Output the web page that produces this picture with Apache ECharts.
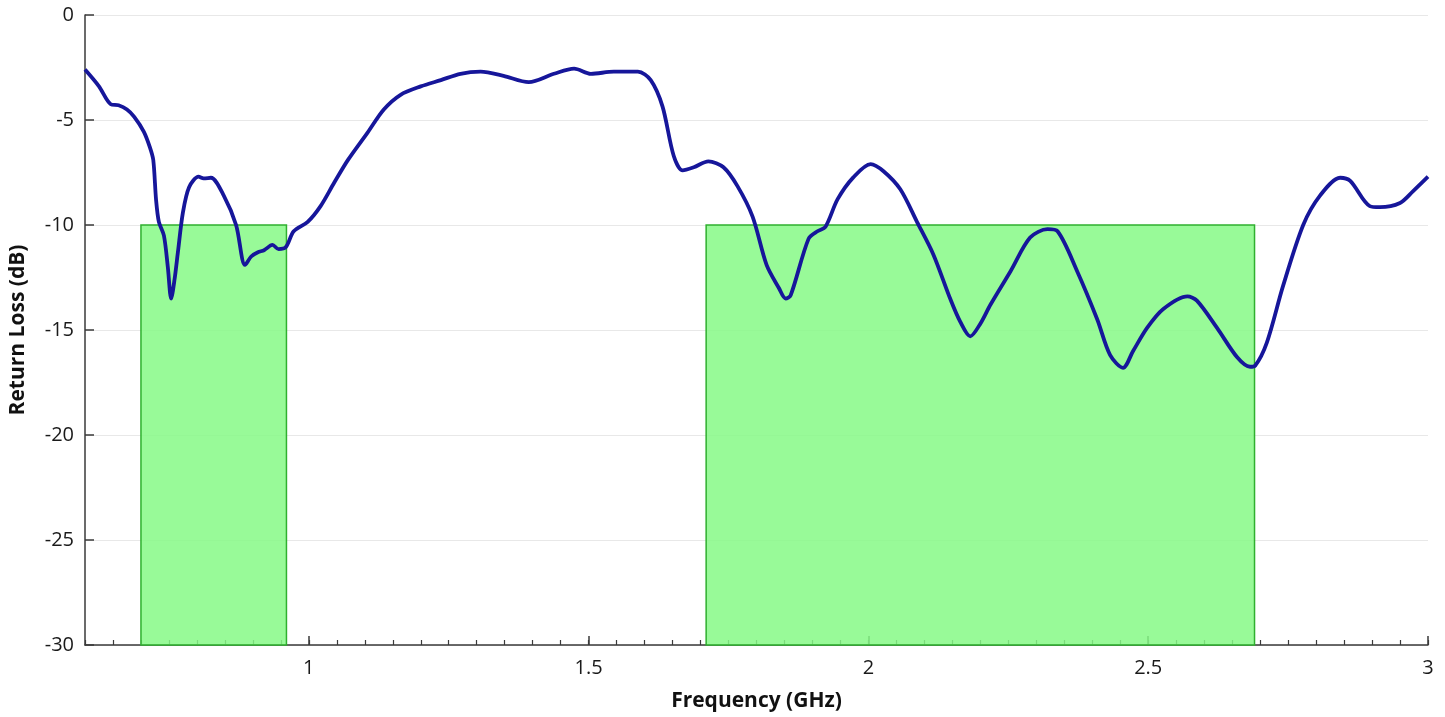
<!DOCTYPE html>
<html>
<head>
<meta charset="utf-8">
<script src="https://cdn.jsdelivr.net/npm/echarts@6/dist/echarts.min.js"></script>
<style>
html,body{margin:0;padding:0;background:#fff;}
#chart{width:1445px;height:717px;}
</style>
</head>
<body>
<div id="chart"></div>
<script>
// Frequency (GHz)
const freq = [0.600,0.625,0.646,0.660,0.675,0.688,0.705,0.716,0.722,0.727,0.732,0.741,0.748,0.754,0.760,0.766,0.775,0.786,0.803,0.812,0.825,0.848,0.870,0.886,0.897,0.909,0.920,0.935,0.946,0.959,0.973,0.998,1.021,1.045,1.070,1.105,1.134,1.164,1.200,1.236,1.271,1.307,1.348,1.393,1.438,1.474,1.504,1.545,1.588,1.611,1.632,1.652,1.668,1.688,1.714,1.741,1.766,1.793,1.818,1.840,1.852,1.861,1.893,1.909,1.923,1.945,1.973,2.004,2.027,2.057,2.087,2.116,2.146,2.164,2.182,2.200,2.218,2.254,2.289,2.320,2.338,2.373,2.409,2.432,2.455,2.473,2.498,2.527,2.570,2.587,2.623,2.659,2.682,2.691,2.712,2.741,2.777,2.807,2.843,2.861,2.896,2.914,2.950,2.973,3.000];
// Return loss (dB)
const returnLoss = [-2.6,-3.4,-4.25,-4.3,-4.5,-4.85,-5.55,-6.3,-6.9,-8.8,-9.85,-10.5,-12.0,-13.5,-12.6,-11.3,-9.4,-8.2,-7.7,-7.78,-7.75,-8.6,-10.0,-11.9,-11.5,-11.3,-11.2,-10.95,-11.15,-11.05,-10.3,-9.85,-9.1,-8.0,-6.9,-5.6,-4.5,-3.8,-3.4,-3.1,-2.8,-2.7,-2.9,-3.2,-2.8,-2.55,-2.8,-2.7,-2.7,-3.1,-4.35,-6.7,-7.4,-7.25,-6.97,-7.25,-8.15,-9.6,-11.9,-13.0,-13.5,-13.35,-10.66,-10.3,-10.1,-8.77,-7.73,-7.1,-7.44,-8.3,-9.86,-11.4,-13.5,-14.6,-15.3,-14.7,-13.8,-12.2,-10.6,-10.2,-10.3,-12.2,-14.5,-16.2,-16.8,-16.0,-14.9,-14.0,-13.4,-13.6,-14.9,-16.3,-16.75,-16.7,-15.6,-12.9,-10.0,-8.6,-7.75,-7.9,-9.1,-9.15,-8.95,-8.4,-7.7];
// Target bands [start GHz, end GHz]
const bands = [[0.70, 0.96], [1.71, 2.69]];
const bandTop = -10;
const bandBottom = -30;
// Tick labels
const xMajorTicks = [1, 1.5, 2, 2.5, 3];

const chart = echarts.init(document.getElementById('chart'));
const font = '"Open Sans", "Liberation Sans", sans-serif';
const lineData = freq.map((f, i) => [f, returnLoss[i]]);

chart.setOption({
  animation: false,
  grid: {left: 84, right: 17, top: 15, bottom: 70, containLabel: false},
  xAxis: [
    {
      type: 'value', min: 0.6, max: 3,
      name: 'Frequency (GHz)', nameLocation: 'middle', nameGap: 46,
      nameTextStyle: {fontFamily: font, fontWeight: 'bold', fontSize: 21, color: '#111'},
      axisLine: {show: true, onZero: false, lineStyle: {color: '#3a3a3a', width: 1.5}},
      axisTick: {show: true, inside: true, length: 9, customValues: xMajorTicks, lineStyle: {color: '#3a3a3a', width: 1.5}},
      axisLabel: {show: true, customValues: xMajorTicks, margin: 13, fontFamily: font, fontSize: 20, color: '#1a1a1a'},
      splitLine: {show: false}
    },
    {
      type: 'value', min: 0.6, max: 3, interval: 0.05, position: 'bottom',
      axisLine: {show: false, onZero: false},
      axisTick: {show: true, inside: true, length: 5, lineStyle: {color: '#3a3a3a', width: 1.2}},
      axisLabel: {show: false},
      splitLine: {show: false}
    }
  ],
  yAxis: {
    type: 'value', min: -30, max: 0, interval: 5,
    name: 'Return Loss (dB)', nameLocation: 'middle', nameGap: 56,
    nameTextStyle: {fontFamily: font, fontWeight: 'bold', fontSize: 21, color: '#111'},
    axisLine: {show: true, onZero: false, lineStyle: {color: '#3a3a3a', width: 1.5}},
    axisTick: {show: true, inside: true, length: 9, lineStyle: {color: '#3a3a3a', width: 1.5}},
    axisLabel: {margin: 11, fontFamily: font, fontSize: 20, color: '#1a1a1a'},
    splitLine: {show: true, lineStyle: {color: '#e8e8e8', width: 1.2}}
  },
  series: [
    {
      type: 'line', data: [], silent: true, z: 1,
      markArea: {
        silent: true,
        itemStyle: {color: 'rgba(134,249,134,0.85)', borderColor: '#2fb02f', borderWidth: 1.5},
        data: bands.map(b => [{xAxis: b[0], yAxis: bandTop}, {xAxis: b[1], yAxis: bandBottom}])
      }
    },
    {
      type: 'line', data: lineData, smooth: 0.3, showSymbol: false, z: 5,
      lineStyle: {color: '#16169a', width: 3.8}
    }
  ]
});
</script>
</body>
</html>
